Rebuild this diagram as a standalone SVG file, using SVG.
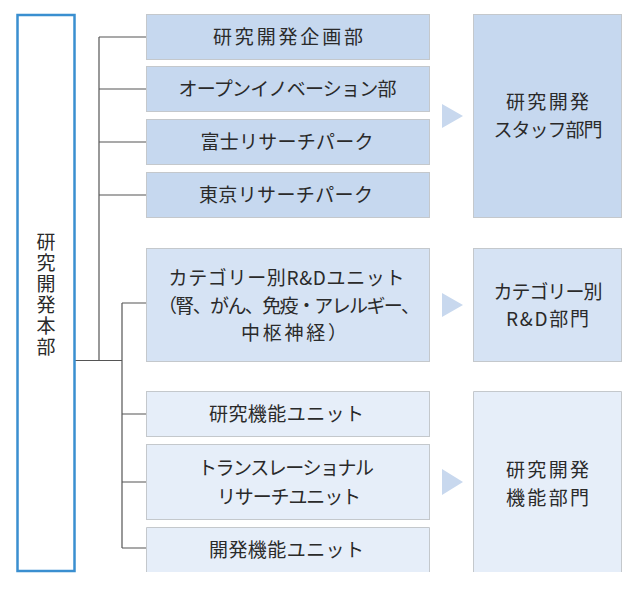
<svg xmlns="http://www.w3.org/2000/svg" width="640" height="590" viewBox="0 0 640 590">
<style>
text{font-family:"Noto Sans CJK JP","Noto Sans",sans-serif;font-size:19px;fill:#2a2a2a;text-anchor:middle}
.b1{fill:#c6d8ef;stroke:#c4c8cc;stroke-width:1}
.b2{fill:#d6e3f4;stroke:#c4c8cc;stroke-width:1}
.b3{fill:#e6eef9;stroke:#c4c8cc;stroke-width:1}
.nb{stroke:none}
.ln{fill:none;stroke:#c4c8cc;stroke-width:1}
.tri{fill:#c8d8ee}
.con{fill:none;stroke:#555;stroke-width:1.2}
.v{writing-mode:vertical-rl;letter-spacing:2px}
</style>
<rect width="640" height="590" fill="#fff"/>
<g id="connectors">
<path class="con" d="M99 37V360M99 37H146M99 89H146M99 142H146M99 195H146"/>
<path class="con" d="M75 360.5H122M122 303V548M122 303H146M122 414H146M122 482H146M122 548H146"/>
<polygon class="tri" points="442,104 463,116 442,128"/>
<polygon class="tri" points="442,293 463,305 442,317"/>
<polygon class="tri" points="442,469 463,482 442,495"/>
</g>
<g id="hq">
<rect x="17.5" y="15" width="57" height="556" fill="#fff" stroke="#3a8fd0" stroke-width="2.5"/>
<text class="v" x="46" y="295">研究開発本部</text>
</g>
<g id="n1"><rect class="b1" x="146.5" y="14.5" width="283" height="45"/><text x="288" y="44" textLength="150" lengthAdjust="spacing">研究開発企画部</text></g>
<g id="n2"><rect class="b1" x="146.5" y="66.5" width="283" height="45"/><text x="287.5" y="96" textLength="218" lengthAdjust="spacing">オープンイノベーション部</text></g>
<g id="n3"><rect class="b1" x="146.5" y="119.5" width="283" height="45"/><text x="287" y="149" textLength="173" lengthAdjust="spacing">富士リサーチパーク</text></g>
<g id="n4"><rect class="b1" x="146.5" y="172.5" width="283" height="45"/><text x="286" y="202" textLength="174" lengthAdjust="spacing">東京リサーチパーク</text></g>
<g id="r1"><rect class="b1" x="473.5" y="14.5" width="148" height="203"/><text x="547.5" y="109" textLength="83" lengthAdjust="spacing">研究開発</text><text x="548" y="137" textLength="109" lengthAdjust="spacing">スタッフ部門</text></g>
<g id="n5"><rect class="b2" x="146.5" y="248.5" width="283" height="113"/>
<text x="286.5" y="285" textLength="236" lengthAdjust="spacing">カテゴリー別R&amp;Dユニット</text>
<text x="289" y="313" textLength="262" lengthAdjust="spacing">（腎、がん、免疫・アレルギー、</text>
<text x="294" y="340" textLength="106" lengthAdjust="spacing">中枢神経）</text></g>
<g id="r2"><rect class="b2" x="473.5" y="248.5" width="148" height="113"/><text x="548" y="299" textLength="109" lengthAdjust="spacing">カテゴリー別</text><text x="547.5" y="326" textLength="83" lengthAdjust="spacing">R&amp;D部門</text></g>
<g id="n6"><rect class="b3" x="146.5" y="391.5" width="283" height="45"/><text x="286.5" y="421" textLength="155" lengthAdjust="spacing">研究機能ユニット</text></g>
<g id="n7"><rect class="b3" x="146.5" y="444.5" width="283" height="75"/><text x="286" y="475" textLength="176" lengthAdjust="spacing">トランスレーショナル</text><text x="289" y="504" textLength="144" lengthAdjust="spacing">リサーチユニット</text></g>
<g id="n8"><rect class="b3 nb" x="146.5" y="527.5" width="283" height="44.5"/><path class="ln" d="M146.5 572V527.5H429.5V572"/><text x="286.5" y="557" textLength="155" lengthAdjust="spacing">開発機能ユニット</text></g>
<g id="r3"><rect class="b3 nb" x="473.5" y="391.5" width="148" height="180.5"/><path class="ln" d="M473.5 572V391.5H621.5V572"/><text x="547.5" y="477" textLength="83" lengthAdjust="spacing">研究開発</text><text x="547.5" y="505" textLength="83" lengthAdjust="spacing">機能部門</text></g>
</svg>
